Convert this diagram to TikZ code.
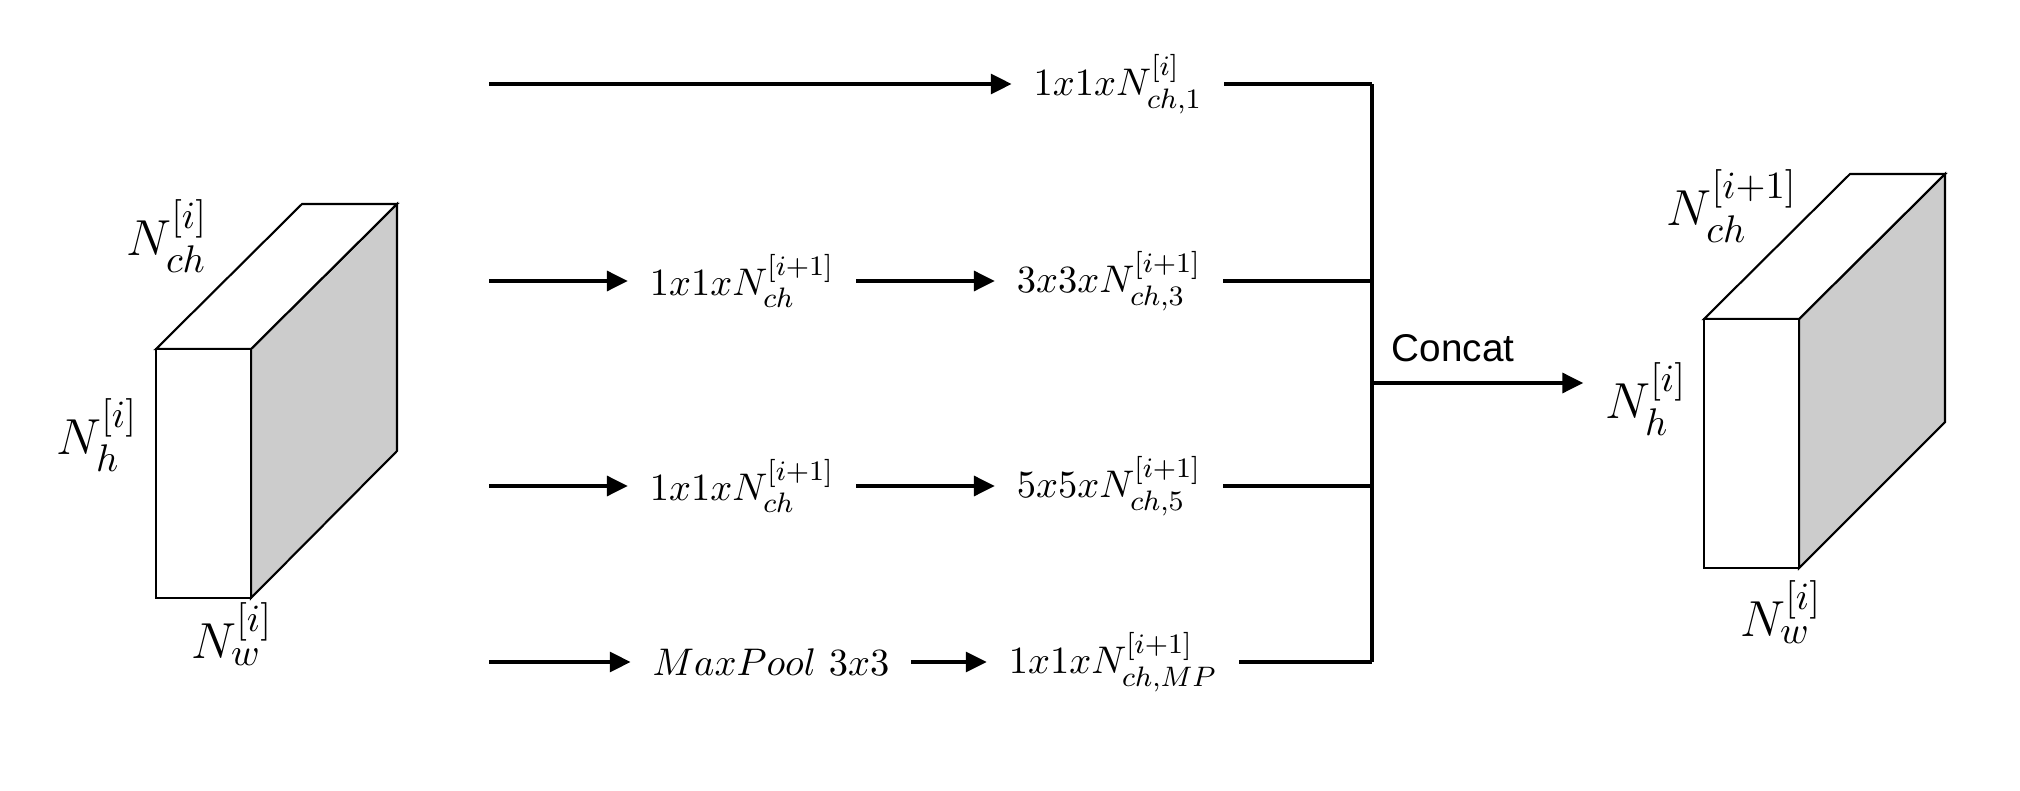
\documentclass[tikz,border=0pt]{standalone}
\usepackage{fontspec}
\setsansfont{Liberation Sans}
\usepackage{amsmath}
\usetikzlibrary{arrows.meta,positioning}

\begin{document}
\begin{tikzpicture}[
    x=0.01cm, y=-0.01cm,
    layer/.style={inner xsep=6pt, inner ysep=1pt, font=\fontsize{11}{13}\selectfont},
    dimlabel/.style={inner sep=2pt, font=\fontsize{15}{17}\selectfont},
    front/.style={draw, line width=0.6pt, fill=white},
    side/.style={draw, line width=0.6pt, fill=black!20},
    arrow/.style={-{Triangle[length=6pt,width=5.5pt]}, line width=1.4pt},
    link/.style={line width=1.4pt}
]
\useasboundingbox (0,0) rectangle (2020,791);

% Input volume
\draw[side] (251,349) -- (397,204) -- (397,451) -- (251,598) -- cycle;
\draw[front] (156,349) -- (302,204) -- (397,204) -- (251,349) -- cycle;
\draw[front] (156,349) rectangle (251,598);
\node[dimlabel] (chin) at (167,236) {$N^{[i]}_{ch}$};
\node[dimlabel] (hin) at (97,435) {$N^{[i]}_{h}$};
\node[dimlabel] (win) at (232,634) {$N^{[i]}_{w}$};

% Output volume
\draw[side] (1799,319) -- (1945,174) -- (1945,422) -- (1799,568) -- cycle;
\draw[front] (1704,319) -- (1850,174) -- (1945,174) -- (1799,319) -- cycle;
\draw[front] (1704,319) rectangle (1799,568);
\node[dimlabel] (chout) at (1732,206) {$N^{[i+1]}_{ch}$};
\node[dimlabel, inner xsep=6pt] (hout) at (1646,399) {$N^{[i]}_{h}$};
\node[dimlabel] (wout) at (1781,612) {$N^{[i]}_{w}$};

% Branch starts and concat junctions
\coordinate (s1) at (489,84);
\coordinate (s2) at (489,281);
\coordinate (s3) at (489,486);
\coordinate (s4) at (489,662);
\coordinate (j1) at (1372,84);
\coordinate (j2) at (1372,281);
\coordinate (j3) at (1372,486);
\coordinate (j4) at (1372,662);
\coordinate (jc) at (1372,383);

% Branch 1
\node[layer] (b1) at (1118,84) {$1x1xN^{[i]}_{ch,1}$};

% Branch 2
\node[layer] (b2a) at (742,281) {$1x1xN^{[i+1]}_{ch}$};
\node[layer] (b2b) at (1109,281) {$3x3xN^{[i+1]}_{ch,3}$};

% Branch 3
\node[layer] (b3a) at (742,486) {$1x1xN^{[i+1]}_{ch}$};
\node[layer] (b3b) at (1109,486) {$5x5xN^{[i+1]}_{ch,5}$};

% Branch 4
\node[layer] (b4a) at (771,662) {$MaxPool\ 3x3$};
\node[layer] (b4b) at (1113,662) {$1x1xN^{[i+1]}_{ch,MP}$};

% Arrows
\draw[arrow] (s1) -- (b1);
\draw[arrow] (s2) -- (b2a);
\draw[arrow] (b2a) -- (b2b);
\draw[arrow] (s3) -- (b3a);
\draw[arrow] (b3a) -- (b3b);
\draw[arrow] (s4) -- (b4a);
\draw[arrow] (b4a) -- (b4b);

% Concat
\draw[link] (b1) -- (j1);
\draw[link] (b2b) -- (j2);
\draw[link] (b3b) -- (j3);
\draw[link] (b4b) -- (j4);
\draw[link] (j1) -- (j4);
\node[font=\sffamily\fontsize{11}{13}\selectfont] (concat) at (1453,348) {Concat};
\draw[arrow] (jc) -- (jc -| hout.west);

\end{tikzpicture}
\end{document}
